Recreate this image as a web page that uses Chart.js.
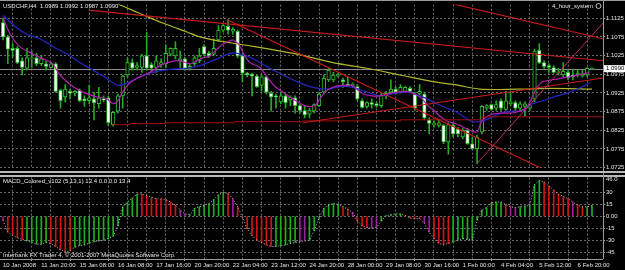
<!DOCTYPE html>
<html>
<head>
<meta charset="utf-8">
<script src="https://cdn.jsdelivr.net/npm/chart.js@4.4.0/dist/chart.umd.min.js"></script>
<style>
  body { margin: 0; background: #000; width: 625px; height: 270px; overflow: hidden; position: relative; }
  canvas { position: absolute; left: 0; }
  #main { top: 0; }
  #macd { top: 173px; }
</style>
</head>
<body>
<canvas id="main" width="625" height="173"></canvas>
<canvas id="macd" width="625" height="97"></canvas>
<script>
// USDCHF H4 candles (bar 0 = leftmost)
var opens = [1.1113,1.1075,1.1044,1.1044,1.1011,1.0991,1.1016,1.1019,1.1003,1.1003,1.0993,1.1003,1.0932,1.0914,1.0929,1.0924,1.0932,1.0909,1.0904,1.0909,
  1.0896,1.0909,1.0912,1.0840,1.0876,1.0917,1.0973,1.1006,1.0993,1.0993,1.1024,1.1001,1.0993,1.1001,1.1003,1.1029,1.1024,1.1011,1.1016,1.0991,
  1.1003,1.1011,1.1049,1.1031,1.1029,1.1067,1.1093,1.1103,1.1090,1.1090,1.1024,1.0978,1.0975,1.0970,1.0945,1.0968,1.0924,1.0917,1.0901,1.0917,
  1.0906,1.0912,1.0891,1.0878,1.0868,1.0876,1.0891,1.0927,1.0960,1.0960,1.0970,1.0960,1.0947,1.0945,1.0942,1.0904,1.0889,1.0899,1.0896,1.0891,
  1.0917,1.0927,1.0935,1.0927,1.0929,1.0937,1.0922,1.0922,1.0922,1.0853,1.0840,1.0838,1.0838,1.0794,1.0838,1.0828,1.0807,1.0825,1.0789,1.0776,
  1.0820,1.0884,1.0894,1.0884,1.0904,1.0881,1.0896,1.0899,1.0884,1.0889,1.0884,1.0909,1.1039,1.1006,1.0998,1.0993,1.0978,1.0973,1.0980,1.0973,
  1.0973,1.0970,1.0973,1.0989];
var highs = [1.1126,1.1080,1.1057,1.1049,1.1019,1.1044,1.1037,1.1031,1.1024,1.1011,1.1006,1.1006,1.0935,1.0947,1.0935,1.0931,1.0935,1.0917,1.0945,1.0927,
  1.0940,1.0917,1.0917,1.0876,1.0922,1.0973,1.1019,1.1016,1.1006,1.1029,1.1088,1.1006,1.1024,1.1016,1.1054,1.1046,1.1062,1.1037,1.1019,1.1003,
  1.1024,1.1044,1.1054,1.1037,1.1070,1.1105,1.1108,1.1121,1.1100,1.1093,1.1029,1.0980,1.0978,1.0973,1.0973,1.0970,1.0929,1.0922,1.0927,1.0922,
  1.0917,1.0917,1.0894,1.0891,1.0884,1.0896,1.0927,1.0973,1.0991,1.0980,1.0978,1.0965,1.0968,1.0952,1.0947,1.0909,1.0901,1.0909,1.0901,1.0924,
  1.0929,1.0960,1.0942,1.0947,1.0942,1.0942,1.0927,1.0947,1.0927,1.0858,1.0850,1.0853,1.0840,1.0845,1.0845,1.0833,1.0830,1.0830,1.0807,1.0812,
  1.0891,1.0894,1.0896,1.0904,1.0909,1.0929,1.0927,1.0904,1.0901,1.0901,1.0896,1.1042,1.1057,1.1011,1.1003,1.0998,1.0991,1.1006,1.0986,1.0986,
  1.0986,1.0986,1.0993,1.0992];
var lows = [1.1067,1.1003,1.1019,1.1003,1.0973,1.0986,1.0993,1.0998,1.0998,1.0986,1.0991,1.0927,1.0884,1.0901,1.0909,1.0917,1.0901,1.0889,1.0896,1.0853,
  1.0884,1.0901,1.0838,1.0836,1.0871,1.0884,1.0968,1.0986,1.0986,1.0980,1.0986,1.0980,1.0980,1.0993,1.0993,1.1024,1.1016,1.0993,1.0986,1.0986,
  1.0998,1.1006,1.1024,1.1019,1.1024,1.1062,1.1088,1.1082,1.1082,1.1019,1.0955,1.0968,1.0917,1.0940,1.0929,1.0922,1.0876,1.0884,1.0896,1.0884,
  1.0891,1.0871,1.0871,1.0858,1.0858,1.0871,1.0889,1.0922,1.0955,1.0955,1.0968,1.0940,1.0942,1.0940,1.0904,1.0884,1.0884,1.0884,1.0886,1.0886,
  1.0909,1.0922,1.0922,1.0924,1.0927,1.0927,1.0878,1.0917,1.0853,1.0815,1.0833,1.0833,1.0789,1.0761,1.0807,1.0807,1.0802,1.0787,1.0774,1.0736,
  1.0815,1.0878,1.0879,1.0878,1.0878,1.0878,1.0891,1.0876,1.0878,1.0863,1.0878,1.0901,1.1003,1.0991,1.0980,1.0978,1.0973,1.0968,1.0960,1.0960,
  1.0968,1.0968,1.0968,1.0987];
var closes = [1.1075,1.1042,1.1039,1.1006,1.0993,1.1019,1.1019,1.1003,1.1016,1.0996,1.1003,1.0929,1.0904,1.0935,1.0924,1.0929,1.0904,1.0904,1.0912,1.0899,
  1.0912,1.0906,1.0845,1.0873,1.0917,1.0970,1.1006,1.0991,1.0998,1.1024,1.0991,1.0991,1.1011,1.1006,1.1031,1.1044,1.1044,1.1016,1.0991,1.0996,
  1.1019,1.1024,1.1029,1.1024,1.1044,1.1093,1.1105,1.1093,1.1095,1.1024,1.0978,1.0973,1.0970,1.0942,1.0968,1.0927,1.0914,1.0914,1.0917,1.0899,
  1.0914,1.0891,1.0878,1.0866,1.0878,1.0894,1.0922,1.0965,1.0986,1.0973,1.0973,1.0955,1.0945,1.0947,1.0909,1.0886,1.0899,1.0894,1.0891,1.0919,
  1.0924,1.0935,1.0927,1.0940,1.0940,1.0929,1.0884,1.0929,1.0858,1.0843,1.0843,1.0845,1.0794,1.0840,1.0815,1.0815,1.0825,1.0789,1.0776,1.0807,
  1.0889,1.0891,1.0881,1.0894,1.0884,1.0904,1.0901,1.0884,1.0896,1.0896,1.0891,1.1037,1.1006,1.0996,1.0993,1.0980,1.0980,1.0983,1.0965,1.0968,
  1.0978,1.0975,1.0991,1.0990];
var lastPrice = 1.0990;

// moving averages, sampled along the curves (bar position, price)
var fastMaBars = [0,1.5,3.5,6.3,9.2,10.4,11.5,12.5,14.6,16.7,19.6,21.7,23,24,25,26.5,28.6,30.7,32.8,34.9,37,39,40.5,41.8,43.2,44.7,45.7,47,48,48.6,49.3,50.5,51.6,53.7,55.1,56.8,58.5,60.5,63,65.1,66.2,67.2,68.9,71,72.9,73.9,75.2,77,78.7,80.2,82.3,84.3,86,87.5,88.7,90.2,91.2,92.7,94.4,95.4,97.5,99,100,101.7,103.8,105.8,107.9,109.6,111.5,112.7,115.7,119,122.5];
var fastMa = [1.1126,1.1082,1.1049,1.1029,1.1011,1.1003,1.0980,1.0965,1.0942,1.0927,1.0914,1.0909,1.0896,1.0904,1.0927,1.0952,1.0968,1.0980,1.0998,1.1008,1.1011,1.1003,1.1011,1.1019,1.1024,1.1042,1.1054,1.1062,1.1067,1.1062,1.1054,1.1024,1.1006,1.0993,1.0968,1.0942,1.0927,1.0909,1.0891,1.0891,1.0909,1.0927,1.0940,1.0945,1.0945,1.0935,1.0922,1.0917,1.0917,1.0922,1.0927,1.0929,1.0922,1.0909,1.0891,1.0876,1.0863,1.0850,1.0843,1.0838,1.0825,1.0820,1.0850,1.0866,1.0871,1.0871,1.0876,1.0891,1.0940,1.0955,1.0962,1.0970,1.0980];
var slowMaBars = [0,2.5,5,7.7,10.4,13.4,16.1,18.8,20.9,23,24,25,26.5,28.6,31.3,34.9,38.4,41.1,44.7,47.4,48.9,50.9,53,55.7,58.5,61.4,63,64.7,67.6,70.4,73.1,76,78.7,81.4,84.3,87.1,89.8,92.7,94.4,96,98.1,100.2,103.1,105.8,108.6,110.6,112.7,115.7,118.4,121.1,122.5];
var slowMa = [1.1133,1.1103,1.1082,1.1070,1.1049,1.1029,1.1006,1.0986,1.0970,1.0952,1.0945,1.0947,1.0955,1.0968,1.0980,1.0988,1.0991,1.0998,1.1016,1.1031,1.1031,1.1024,1.1011,1.0991,1.0973,1.0955,1.0947,1.0940,1.0935,1.0942,1.0940,1.0927,1.0917,1.0922,1.0927,1.0917,1.0901,1.0884,1.0876,1.0863,1.0848,1.0850,1.0866,1.0876,1.0878,1.0896,1.0904,1.0917,1.0927,1.0942,1.0952];
var longMaBars = [23.8,27.1,30.7,34.2,38.4,41.1,44.7,50.1,55.7,61.4,68.9,76,82.9,89.8,94.4,99.6,107.3,114.2,123];
var longMa = [1.1164,1.1146,1.1126,1.1108,1.1088,1.1075,1.1065,1.1054,1.1042,1.1029,1.1006,1.0991,1.0973,1.0955,1.0947,1.0935,1.0935,1.0937,1.0935];

// hand-drawn trend lines: [startBar, startPrice, endBar, endPrice]
var trendLines = [
  [18.2, 1.1146, 125.3, 1.1011],
  [93.7, 1.1164, 125.3, 1.1070],
  [46.8, 1.1121, 112.1, 1.0725],
  [62.6, 1.0845, 125.3, 1.0965]
];
var steepLine = [99, 1.0736, 125.3, 1.1112];
var supportBars = [23, 26.5, 33.8, 48.4, 62.6, 83, 100, 121, 125.3];
var supportLevels = [1.0838, 1.0840, 1.0843, 1.0845, 1.0848, 1.0850, 1.0853, 1.0861, 1.0861];

// MACD_Colored histogram (one value per bar) and its colour state
var macdHist = [-5,-20,-24,-27,-29,-31,-33,-35,-35,-33,-34,-38,-42,-45,-43,-39,-37,-36,-34,-32,
  -31,-30,-28,-25,-12,12,18,23,28,28,26,24,22,22,21,18,14,8,3,2,
  10,12,14,16,21,27,30,29,22,12,-1,-16,-24,-30,-33,-36,-38,-38,-37,-36,
  -34,-33,-32,-31,-30,-18,-2,10,14,16,15,12,9,5,-6,-12,-14,-15,-14,-6,
  1,2,3,3,1,-2,-3,-3,-9,-20,-28,-34,-36,-34,-32,-30,-28,-29,-30,-5,
  8,11,17,18,18,15,12,11,12,13,14,40,45,43,38,33,28,25,22,18,
  14,12,12,13.4];
var macdState = ['p','d','d','d','d','u','u','u','u','u','d','d','d','d','d','u','u','u','u','u',
  'u','u','u','u','u','u','u','u','u','d','d','d','d','d','d','d','d','p','p','u',
  'u','u','u','u','u','u','u','d','p','d','d','d','d','d','d','d','d','u','u','u',
  'u','u','p','p','u','u','u','u','u','u','u','d','d','p','d','d','d','p','p','u',
  'u','u','u','u','d','d','d','d','p','p','d','d','d','d','u','u','u','u','u','u',
  'u','u','u','u','u','d','p','p','u','u','u','u','u','d','d','d','d','d','d','p',
  'd','d','u','u'];

var priceTicks = [1.0725, 1.0775, 1.0825, 1.0875, 1.0925, 1.0975, 1.1025, 1.1075, 1.1125];
var macdTicks = [30, 15, 0, -15, -30, -45];
var timeLabels = ['10 Jan 2008','11 Jan 20:00','15 Jan 08:00','16 Jan 08:00','17 Jan 16:00','20 Jan 20:00',
  '22 Jan 04:00','23 Jan 12:00','24 Jan 20:00','28 Jan 00:00','29 Jan 08:00','30 Jan 16:00',
  '1 Feb 00:00','4 Feb 04:00','5 Feb 12:00','6 Feb 20:00'];

var FONT = 'Liberation Sans';
var gridColor = '#6a6a6a';
var textColor = '#e6e6e6';
var stateColors = { u: '#1fae1f', d: '#d41414', p: '#9b1f9b' };
var xMin = -0.63, xMax = 125.3;
var gridBars = [];
for (var g = 0; g <= 124; g += 4) gridBars.push(g);

Chart.defaults.font.family = FONT;
Chart.defaults.font.size = 6;

function pts(bars, vals) {
  return bars.map(function (b, i) { return { x: b, y: vals[i] }; });
}
function xScale(showLabels) {
  return {
    type: 'linear', min: xMin, max: xMax, offset: false,
    afterBuildTicks: function (s) { s.ticks = gridBars.map(function (v) { return { value: v }; }); },
    afterFit: function (s) { s.height = showLabels ? 11 : 0; },
    ticks: {
      display: showLabels, autoSkip: false, maxRotation: 0, minRotation: 0, align: 'start', padding: 1,
      color: textColor, font: { size: 6 },
      callback: function (v) { return v % 8 === 0 ? timeLabels[v / 8] : ''; }
    },
    grid: {
      color: gridColor, drawTicks: showLabels, tickLength: 2,
      tickColor: function (c) { return c.index % 2 === 0 ? '#a0a0a0' : 'rgba(0,0,0,0)'; }
    },
    border: { display: false, dash: [2, 2] }
  };
}

var idx = opens.map(function (_, i) { return i; });

var mainDecor = {
  id: 'mainDecor',
  beforeDatasetsDraw: function (chart) {
    var c = chart.ctx, a = chart.chartArea, y = Math.round(chart.scales.y.getPixelForValue(lastPrice)) + 0.5;
    c.save();
    c.strokeStyle = '#8c8c8c'; c.lineWidth = 1;
    c.beginPath(); c.moveTo(a.left, y); c.lineTo(a.right, y); c.stroke();
    c.restore();
  },
  afterDraw: function (chart) {
    var c = chart.ctx, a = chart.chartArea, y = chart.scales.y.getPixelForValue(lastPrice);
    c.save();
    c.strokeStyle = '#9a9a9a'; c.lineWidth = 1;
    c.beginPath();
    c.moveTo(0, 0.5); c.lineTo(625, 0.5);
    c.moveTo(a.right + 0.5, 0); c.lineTo(a.right + 0.5, 173);
    c.stroke();
    c.fillStyle = '#b8b8b8'; c.fillRect(0, 171, 625, 2);
    // current price tag
    c.fillStyle = '#ffffff'; c.fillRect(a.right + 1, y - 3.5, 625 - a.right - 1, 7);
    c.fillStyle = '#000'; c.font = '6px ' + FONT; c.textBaseline = 'middle'; c.textAlign = 'left';
    c.fillText(lastPrice.toFixed(4), a.right + 3, y);
    c.fillStyle = textColor;
    c.fillText('USDCHF,H4  1.0989 1.0992 1.0987 1.0990', 3, 6);
    c.textAlign = 'right';
    c.fillText('4_hour_system', 593, 6);
    c.strokeStyle = '#c0c0c0';
    c.beginPath(); c.arc(598.5, 6, 2.5, 0, Math.PI * 2); c.stroke();
    c.restore();
  }
};

new Chart(document.getElementById('main'), {
  type: 'bar',
  data: {
    datasets: [
      { type: 'bar', data: idx.map(function (i) { return { x: i, y: [lows[i], highs[i]] }; }),
        backgroundColor: '#27a827', barThickness: 1, grouped: false, order: 30 },
      { type: 'bar', data: idx.map(function (i) { return { x: i, y: [opens[i], closes[i]] }; }),
        backgroundColor: function (c) { return closes[c.dataIndex] >= opens[c.dataIndex] ? '#000' : '#fff'; },
        borderColor: '#2fc02f', borderWidth: 1, borderSkipped: false, barThickness: 3.6, minBarLength: 1,
        grouped: false, order: 20 },
      { type: 'line', data: pts(longMaBars, longMa), borderColor: '#b4b42a', borderWidth: 1.2, pointRadius: 0, tension: 0.3, order: 5 },
      { type: 'line', data: pts(slowMaBars, slowMa), borderColor: '#2626c8', borderWidth: 1.2, pointRadius: 0, tension: 0.3, order: 4 },
      { type: 'line', data: pts(fastMaBars, fastMa), borderColor: '#b020b0', borderWidth: 1.2, pointRadius: 0, tension: 0.3, order: 3 },
      { type: 'line', data: pts(supportBars, supportLevels), borderColor: '#a01010', borderWidth: 1, pointRadius: 0, stepped: 'after', order: 2 },
      { type: 'line', data: [{ x: steepLine[0], y: steepLine[1] }, { x: steepLine[2], y: steepLine[3] }],
        borderColor: '#b8306e', borderWidth: 1, pointRadius: 0, order: 1 }
    ].concat(trendLines.map(function (t) {
      return { type: 'line', data: [{ x: t[0], y: t[1] }, { x: t[2], y: t[3] }],
        borderColor: '#cc1a1a', borderWidth: 1.1, pointRadius: 0, order: 1 };
    }))
  },
  options: {
    responsive: false, animation: false,
    layout: { padding: { top: 1, bottom: 1, left: 0, right: 0 } },
    plugins: { legend: { display: false }, tooltip: { enabled: false } },
    scales: {
      x: xScale(false),
      y: {
        position: 'right', min: 1.07229, max: 1.11614,
        afterBuildTicks: function (s) { s.ticks = priceTicks.map(function (v) { return { value: v }; }); },
        afterFit: function (s) { s.width = 22; },
        ticks: { color: textColor, padding: 1, font: { size: 6 }, callback: function (v) { return v.toFixed(4); } },
        grid: { color: gridColor, drawTicks: true, tickLength: 2, tickColor: '#a0a0a0' },
        border: { display: false, dash: [2, 2] }
      }
    }
  },
  plugins: [mainDecor]
});

var macdDecor = {
  id: 'macdDecor',
  afterDraw: function (chart) {
    var c = chart.ctx, a = chart.chartArea;
    c.save();
    c.fillStyle = '#b8b8b8'; c.fillRect(0, 2, 625, 2);
    c.strokeStyle = '#9a9a9a'; c.lineWidth = 1;
    c.beginPath();
    c.moveTo(a.right + 0.5, 0); c.lineTo(a.right + 0.5, a.bottom);
    c.moveTo(0, a.bottom + 0.5); c.lineTo(a.right, a.bottom + 0.5);
    c.stroke();
    c.fillStyle = textColor; c.font = '6px ' + FONT; c.textBaseline = 'middle'; c.textAlign = 'left';
    c.fillText('MACD_Colored_v102 (5,13,1) 13.4 0.0 0.0 13.4', 3, 8);
    c.fillText('Interbank FX Trader 4, \u00a9 2001-2007 MetaQuotes Software Corp.', 3, 82);
    c.fillText('46.0', a.right + 3, 6);
    c.restore();
  }
};

new Chart(document.getElementById('macd'), {
  type: 'bar',
  data: {
    datasets: [
      { type: 'line', data: idx.map(function (i) { return { x: i, y: macdHist[i] }; }),
        borderColor: '#c4c4c4', borderWidth: 1, borderDash: [1, 2], pointRadius: 0, order: 1 },
      { type: 'bar', data: idx.map(function (i) { return { x: i, y: macdHist[i] }; }),
        backgroundColor: function (c) { return stateColors[macdState[c.dataIndex]]; },
        barThickness: 1, grouped: false, order: 5 }
    ]
  },
  options: {
    responsive: false, animation: false,
    layout: { padding: { top: 4, bottom: 0, left: 0, right: 0 } },
    plugins: { legend: { display: false }, tooltip: { enabled: false } },
    scales: {
      x: xScale(true),
      y: {
        position: 'right', min: -53.75, max: 48.75,
        afterBuildTicks: function (s) { s.ticks = macdTicks.map(function (v) { return { value: v }; }); },
        afterFit: function (s) { s.width = 22; },
        ticks: { color: textColor, padding: 1, font: { size: 6 }, callback: function (v) { return v === 0 ? '0.00' : String(v); } },
        grid: { color: gridColor, drawTicks: true, tickLength: 2, tickColor: '#a0a0a0' },
        border: { display: false, dash: [2, 2] }
      }
    }
  },
  plugins: [macdDecor]
});
</script>
</body>
</html>
